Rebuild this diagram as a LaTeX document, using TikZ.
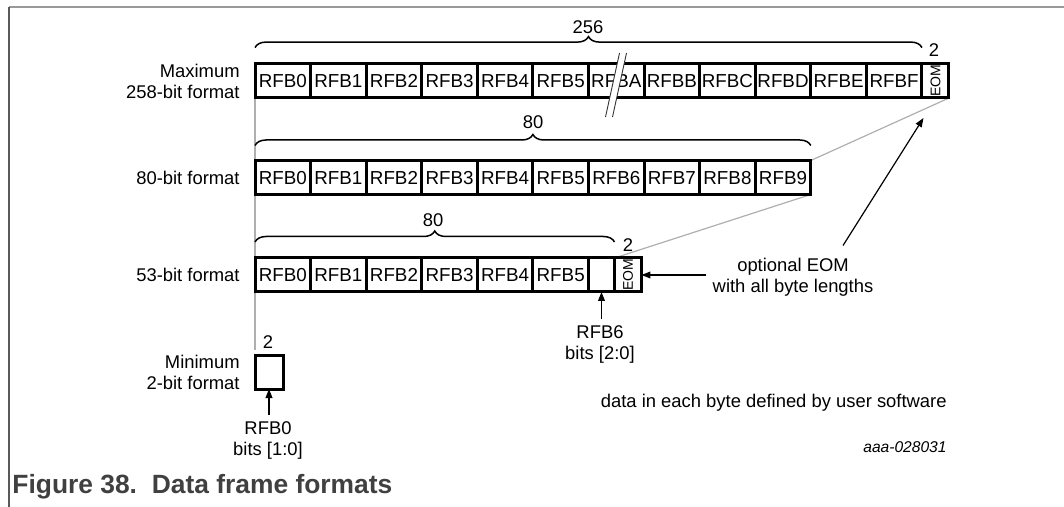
\documentclass[tikz,border=0pt]{standalone}
\usepackage{fontspec}
\setmainfont{Liberation Sans}
\usepackage{graphicx}
\usepackage{xcolor}
\usetikzlibrary{arrows.meta,positioning,calc,backgrounds,decorations.pathreplacing}
\definecolor{guiagris}{RGB}{175,175,175}
\definecolor{piegris}{RGB}{64,64,64}
\tikzset{
  celda/.style={rectangle, draw=black, line width=1.5pt, minimum width=27.79pt,
                minimum height=17pt, inner sep=0pt, outer sep=0pt,
                text height=6.8pt, text depth=0pt,
                font=\fontsize{9.4}{10.5}\selectfont},
  eom/.style={celda, minimum width=13.5pt, text height=, text depth=,
              font=\fontsize{7}{7.5}\selectfont},
  etiqueta/.style={anchor=east, align=right, inner sep=0pt,
                   font=\fontsize{9.2}{10.5}\selectfont},
  nota/.style={align=center, inner sep=3pt, font=\fontsize{9.2}{10.5}\selectfont},
  num/.style={inner sep=0pt, font=\fontsize{9.2}{10.5}\selectfont},
  llave/.style={decorate, decoration={brace, amplitude=5.5pt}, line width=0.75pt},
  guia/.style={draw=guiagris, line width=0.6pt},
  corte/.style={line width=0.45pt, black!80},
  flecha/.style={-{Triangle[length=4.5pt, width=3.4pt]}, line width=0.6pt},
  marco/.style={line width=0.6pt}
}
\begin{document}
\begin{tikzpicture}[x=0.5pt, y=-0.5pt, node distance=0pt]
  \useasboundingbox (0,0) rectangle (1064,507);
  \draw[marco, draw=black!40] (9,7) -- (1064,7);
  \draw[marco, draw=black!65] (9,7) -- (9,507);

  % maximum 258-bit format
  \node[celda, anchor=west] (m0) at (255,81) {RFB0};
  \node[celda, right=of m0] (m1) {RFB1};
  \node[celda, right=of m1] (m2) {RFB2};
  \node[celda, right=of m2] (m3) {RFB3};
  \node[celda, right=of m3] (m4) {RFB4};
  \node[celda, right=of m4] (m5) {RFB5};
  \node[celda, right=of m5] (mA) {RFBA};
  \node[celda, right=of mA] (mB) {RFBB};
  \node[celda, right=of mB] (mC) {RFBC};
  \node[celda, right=of mC] (mD) {RFBD};
  \node[celda, right=of mD] (mE) {RFBE};
  \node[celda, right=of mE] (mF) {RFBF};
  \node[eom, right=of mF] (meom) {\rotatebox{90}{EOM}};
  \node[etiqueta] (lmax) at (240,81) {Maximum\\258-bit format};
  \draw[llave] ([yshift=8.2pt]m0.north west) -- ([yshift=8.2pt]mF.north east);
  \node[num] (t256) at (588,27) {256};
  \node[num] (t2a) at (934,50) {2};

  % break mark
  \fill[white] (618.4,58) -- (625.4,58) -- (614.9,106) -- (607.9,106) -- cycle;
  \draw[corte] (619.5,53) -- (605.5,117);
  \draw[corte] (626.5,53) -- (612.5,117);

  % 80-bit format
  \node[celda, anchor=west] (e0) at (255,177.5) {RFB0};
  \node[celda, right=of e0] (e1) {RFB1};
  \node[celda, right=of e1] (e2) {RFB2};
  \node[celda, right=of e2] (e3) {RFB3};
  \node[celda, right=of e3] (e4) {RFB4};
  \node[celda, right=of e4] (e5) {RFB5};
  \node[celda, right=of e5] (e6) {RFB6};
  \node[celda, right=of e6] (e7) {RFB7};
  \node[celda, right=of e7] (e8) {RFB8};
  \node[celda, right=of e8] (e9) {RFB9};
  \node[etiqueta] (l80) at (240,177.5) {80-bit format};
  \draw[llave] ([yshift=7.5pt]e0.north west) -- ([yshift=7.5pt]e9.north east);
  \node[num] (t80a) at (533,122) {80};

  % 53-bit format
  \node[celda, anchor=west] (s0) at (255,275) {RFB0};
  \node[celda, right=of s0] (s1) {RFB1};
  \node[celda, right=of s1] (s2) {RFB2};
  \node[celda, right=of s2] (s3) {RFB3};
  \node[celda, right=of s3] (s4) {RFB4};
  \node[celda, right=of s4] (s5) {RFB5};
  \node[celda, minimum width=13pt, right=of s5] (s6) {};
  \node[eom, right=of s6] (seom) {\rotatebox{90}{EOM}};
  \node[etiqueta] (l53) at (240,275) {53-bit format};
  \draw[llave] ([yshift=8pt]s0.north west) -- ([yshift=8pt]s6.north east);
  \node[num] (t80b) at (433,220) {80};
  \node[num] (t2b) at (628,245) {2};

  % minimum 2-bit format
  \node[celda, minimum width=14pt, anchor=west] (n0) at (255,372) {};
  \node[etiqueta] (lmin) at (240,372) {Minimum\\2-bit format};
  \node[num] (t2c) at (268,342) {2};
  \coordinate (fin) at (255,350);

  \begin{scope}[on background layer]
    \draw[guia] (m0.south west) -- (fin);
    \draw[guia] (meom.south east) -- (e9.north east);
    \draw[guia] (e9.south east) -- (seom.north west);
  \end{scope}

  % notes and arrows
  \node[nota] (opt) at (793,277) {optional EOM\\with all byte lengths};
  \node[nota] (r6) at (600,344) {RFB6\\bits [2:0]};
  \node[nota] (r0) at (268,440) {RFB0\\bits [1:0]};
  \draw[flecha] (opt.west |- seom.east) -- (seom.east);
  \draw[flecha] ([xshift=25pt,yshift=3pt]opt.north) -- ([xshift=-6pt,yshift=-10pt]meom.south);
  \draw[flecha] (r6.north -| s6.south) -- (s6.south);
  \draw[flecha] (r0.north -| n0.south) -- (n0.south);

  \node[etiqueta] (usr) at (947,403) {data in each byte defined by user software};
  \node[etiqueta, font=\fontsize{7.8}{9}\selectfont\itshape] (cod) at (947,447) {aaa-028031};
  \node[anchor=west, inner sep=0pt, text=piegris,
        font=\fontsize{13.2}{15}\selectfont\bfseries] (pie) at (12,487) {Figure 38.\ \ Data frame formats};
\end{tikzpicture}
\end{document}
